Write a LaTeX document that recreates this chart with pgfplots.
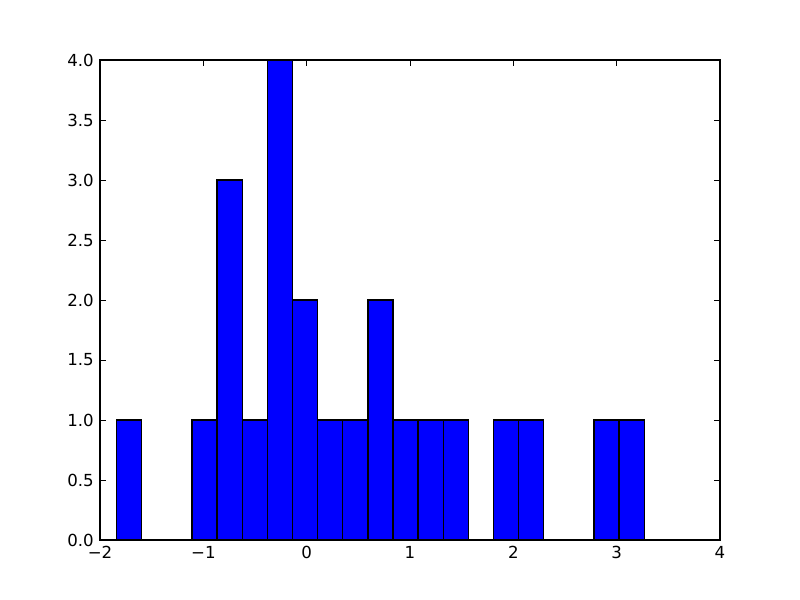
\documentclass[border=0pt]{standalone}
\usepackage{pgfplots}
\pgfplotsset{compat=1.18}
\usepackage{fontspec}
\setmainfont{DejaVu Sans}
\begin{document}
\begin{tikzpicture}
\useasboundingbox (-1in,-0.6in) rectangle (7in,5.4in);
\begin{axis}[
  at={(0,0)}, anchor=south west,
  scale only axis, width=6.2in, height=4.8in,
  xmin=-2, xmax=4, ymin=0, ymax=4,
  xtick={-2,-1,0,1,2,3,4},
  xticklabels={−2,−1,0,1,2,3,4},
  ytick={0,0.5,1,1.5,2,2.5,3,3.5,4},
  yticklabel style={/pgf/number format/fixed,/pgf/number format/fixed zerofill,/pgf/number format/precision=1},
  /pgf/number format/assume math mode=true,
  tick align=inside,
  major tick length=4pt,
  minor tick num=0,
  axis line style={line width=0.8pt},
  tick style={line width=0.6pt, black},
  ticklabel style={font=\fontsize{12}{14}\selectfont},
  xticklabel style={yshift=-1pt},
  yticklabel style={xshift=-1pt},
]
\addplot[ybar interval, fill={rgb,1:red,0;green,0;blue,1}, draw=black, line width=1pt] table[x=x,y=y] {
x y
-1.839 1
-1.596 0
-1.353 0
-1.110 1
-0.866 3
-0.623 1
-0.380 4
-0.137 2
0.106 1
0.349 1
0.592 2
0.836 1
1.079 1
1.322 1
1.565 0
1.808 1
2.051 1
2.294 0
2.538 0
2.781 1
3.024 1
3.267 1
};
\end{axis}
\end{tikzpicture}
\end{document}
